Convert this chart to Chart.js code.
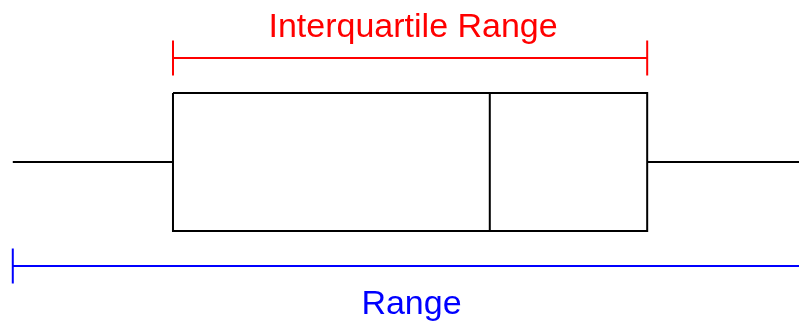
<!DOCTYPE html>
<html>
<head>
<meta charset="utf-8">
<script src="https://cdn.jsdelivr.net/npm/chart.js@4/dist/chart.umd.min.js"></script>
<style>
html,body{margin:0;padding:0;background:#fff;}
#wrap{width:799px;height:322px;position:relative;}
</style>
</head>
<body>
<div id="wrap"><canvas id="c"></canvas></div>
<script>
// Five-number summary (arbitrary units)
const stats = ['min', 'q1', 'median', 'q3', 'max'];
const values = [1.6, 21.65, 61.3, 81.0, 101.4];
// Annotation labels
const labels = ['Interquartile Range', 'Range'];
const labelColors = ['#ff0000', '#0000ff'];

const [vMin, vQ1, vMed, vQ3, vMax] = values;

// geometry (style) constants in y-scale units
const BOX = 69, BR = 104, TICK = 17.5;

const seg = (pts, color) => ({
  data: pts.map(p => ({x: p[0], y: p[1]})),
  showLine: true, borderColor: color, borderWidth: 2,
  pointRadius: 0, tension: 0, fill: false,
  borderCapStyle: 'butt', borderJoinStyle: 'miter'
});

const datasets = [
  seg([[vMin, 0], [vQ1, 0]], '#000'),
  seg([[vQ3, 0], [vMax, 0]], '#000'),
  seg([[vQ1, BOX], [vQ3, BOX], [vQ3, -BOX], [vQ1, -BOX], [vQ1, BOX]], '#000'),
  seg([[vMed, BOX], [vMed, -BOX]], '#000'),
  seg([[vQ1, BR], [vQ3, BR]], labelColors[0]),
  seg([[vQ1, BR - TICK], [vQ1, BR + TICK]], labelColors[0]),
  seg([[vQ3, BR - TICK], [vQ3, BR + TICK]], labelColors[0]),
  seg([[vMin, -BR], [vMax, -BR]], labelColors[1]),
  seg([[vMin, -BR - TICK], [vMin, -BR + TICK]], labelColors[1]),
  seg([[vMax, -BR - TICK], [vMax, -BR + TICK]], labelColors[1])
];

const textPlugin = {
  id: 'texts',
  afterDraw(chart) {
    const {ctx, scales: {x, y}} = chart;
    ctx.save();
    ctx.font = "34px 'Liberation Sans', Arial, sans-serif";
    ctx.textAlign = 'center';
    ctx.textBaseline = 'alphabetic';
    ctx.fillStyle = labelColors[0];
    ctx.fillText(labels[0], x.getPixelForValue((vQ1 + vQ3) / 2) + 3, y.getPixelForValue(125));
    ctx.fillStyle = labelColors[1];
    ctx.fillText(labels[1], x.getPixelForValue((vMin + vMax) / 2), y.getPixelForValue(-152));
    ctx.restore();
  }
};

new Chart(document.getElementById('c'), {
  type: 'scatter',
  data: { datasets },
  options: {
    responsive: true,
    maintainAspectRatio: false,
    animation: false,
    layout: { padding: 0 },
    plugins: { legend: { display: false }, tooltip: { enabled: false } },
    scales: {
      x: { type: 'linear', min: 0, max: 100, display: false },
      y: { type: 'linear', min: -160, max: 162, display: false }
    }
  },
  plugins: [textPlugin]
});
</script>
</body>
</html>
